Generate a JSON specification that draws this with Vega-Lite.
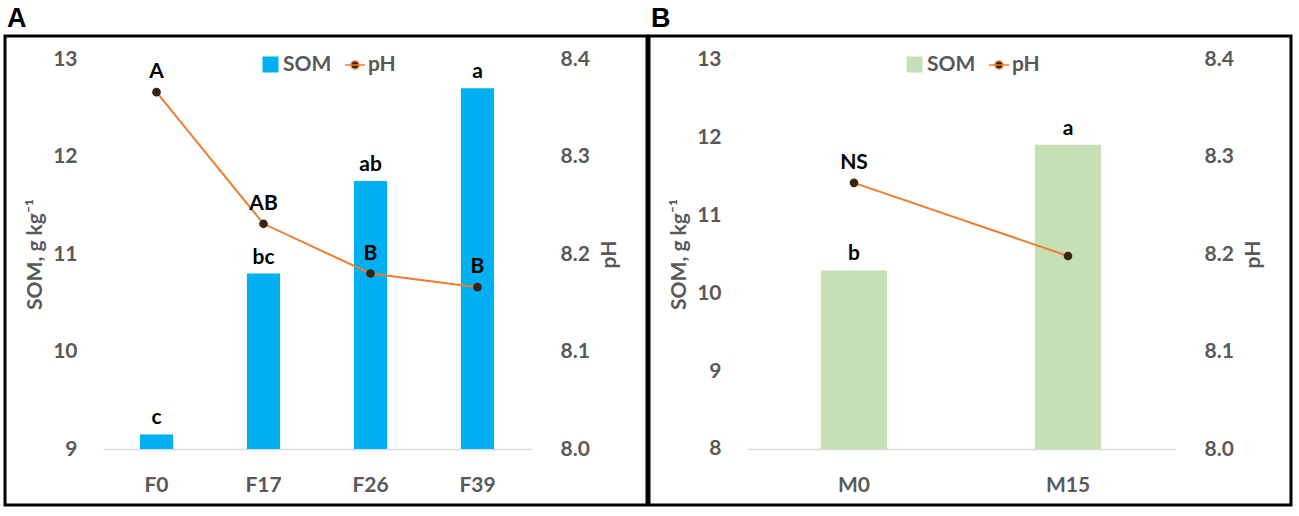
{
  "$schema": "https://vega.github.io/schema/vega-lite/v6.json",
  "padding": {"left": 3, "top": 3, "right": 0, "bottom": 0},
  "datasets": {
    "panelA": [
      {"trt": "F0", "som": 9.15, "somLab": "c", "ph": 8.366, "phLab": "A"},
      {"trt": "F17", "som": 10.80, "somLab": "bc", "ph": 8.231, "phLab": "AB"},
      {"trt": "F26", "som": 11.75, "somLab": "ab", "ph": 8.180, "phLab": "B"},
      {"trt": "F39", "som": 12.70, "somLab": "a", "ph": 8.166, "phLab": "B"}
    ],
    "panelB": [
      {"trt": "M0", "som": 10.29, "somLab": "b", "ph": 8.273, "phLab": "NS"},
      {"trt": "M15", "som": 11.90, "somLab": "a", "ph": 8.198, "phLab": ""}
    ]
  },
  "spacing": 2,
  "bounds": "flush",
  "hconcat": [
    {
      "width": 642,
      "height": 469,
      "title": {"text": "A"},
      "data": {"name": "panelA"},
      "encoding": {
        "x": {
          "field": "trt", "type": "nominal", "sort": null,
          "scale": {"range": [98, 526], "paddingInner": 0.69, "paddingOuter": 0.345},
          "axis": {"orient": "bottom", "offset": -56, "title": null, "labelAngle": 0, "labelPadding": 25, "ticks": false, "domainColor": "#d9d9d9", "domainWidth": 1.5}
        }
      },
      "layer": [
        {
          "encoding": {
            "y": {
              "field": "som", "type": "quantitative",
              "scale": {"domain": [8.426, 13.236], "nice": false, "zero": false},
              "axis": {"orient": "left", "offset": -80, "values": [9, 10, 11, 12, 13], "format": "d", "title": "SOM, g kg⁻¹", "titleY": 218, "titleX": -50, "titleBaseline": "middle"}
            }
          },
          "layer": [
            {
              "mark": {"type": "bar"},
              "encoding": {
                "y2": {"datum": 9},
                "fill": {"datum": "SOM", "scale": {"range": ["#00B0F0"]},
                  "legend": {"orient": "none", "legendX": 255, "legendY": 18, "symbolType": "square"}}
              }
            },
            {
              "mark": {"type": "text", "baseline": "alphabetic", "dy": -10},
              "encoding": {"text": {"field": "somLab"}}
            }
          ]
        },
        {
          "encoding": {
            "y": {
              "field": "ph", "type": "quantitative",
              "scale": {"domain": [7.9426, 8.4236], "nice": false, "zero": false},
              "axis": {"orient": "right", "offset": -95, "values": [8.0, 8.1, 8.2, 8.3, 8.4], "format": ".1f", "title": "pH", "titleAngle": 270, "titleY": 218, "titleX": 57, "titleBaseline": "middle"}
            }
          },
          "layer": [
            {
              "mark": {"type": "line", "strokeWidth": 2},
              "encoding": {
                "stroke": {"datum": "pH", "scale": {"range": ["#ED7D31"]},
                  "legend": {"orient": "none", "legendX": 339, "legendY": 18,
                    "symbolType": "M-1,0L1,0M-0.4,0A0.4,0.4,0,1,1,0.4,0A0.4,0.4,0,1,1,-0.4,0Z",
                    "symbolSize": 400, "symbolStrokeWidth": 1.5,
                    "encode": {"symbols": {"update": {"fill": {"value": "#3B2314"}}}}}}
              }
            },
            {
              "mark": {"type": "point", "filled": true, "size": 75, "color": "#3B2314", "opacity": 1}
            },
            {
              "mark": {"type": "text", "baseline": "alphabetic", "dy": -14},
              "encoding": {"text": {"field": "phLab"}}
            }
          ]
        }
      ],
      "resolve": {"scale": {"y": "independent"}}
    },
    {
      "width": 642,
      "height": 469,
      "title": {"text": "B"},
      "data": {"name": "panelB"},
      "encoding": {
        "x": {
          "field": "trt", "type": "nominal", "sort": null,
          "scale": {"range": [98, 526], "paddingInner": 0.69, "paddingOuter": 0.345},
          "axis": {"orient": "bottom", "offset": -56, "title": null, "labelAngle": 0, "labelPadding": 25, "ticks": false, "domainColor": "#d9d9d9", "domainWidth": 1.5}
        }
      },
      "layer": [
        {
          "encoding": {
            "y": {
              "field": "som", "type": "quantitative",
              "scale": {"domain": [7.282, 13.295], "nice": false, "zero": false},
              "axis": {"orient": "left", "offset": -80, "values": [8, 9, 10, 11, 12, 13], "format": "d", "title": "SOM, g kg⁻¹", "titleY": 218, "titleX": -50, "titleBaseline": "middle"}
            }
          },
          "layer": [
            {
              "mark": {"type": "bar"},
              "encoding": {
                "y2": {"datum": 8},
                "fill": {"datum": "SOM", "scale": {"range": ["#C5E0B4"]},
                  "legend": {"orient": "none", "legendX": 255, "legendY": 18, "symbolType": "square"}}
              }
            },
            {
              "mark": {"type": "text", "baseline": "alphabetic", "dy": -10},
              "encoding": {"text": {"field": "somLab"}}
            }
          ]
        },
        {
          "encoding": {
            "y": {
              "field": "ph", "type": "quantitative",
              "scale": {"domain": [7.9426, 8.4236], "nice": false, "zero": false},
              "axis": {"orient": "right", "offset": -95, "values": [8.0, 8.1, 8.2, 8.3, 8.4], "format": ".1f", "title": "pH", "titleAngle": 270, "titleY": 218, "titleX": 57, "titleBaseline": "middle"}
            }
          },
          "layer": [
            {
              "mark": {"type": "line", "strokeWidth": 2},
              "encoding": {
                "stroke": {"datum": "pH", "scale": {"range": ["#ED7D31"]},
                  "legend": {"orient": "none", "legendX": 339, "legendY": 18,
                    "symbolType": "M-1,0L1,0M-0.4,0A0.4,0.4,0,1,1,0.4,0A0.4,0.4,0,1,1,-0.4,0Z",
                    "symbolSize": 400, "symbolStrokeWidth": 1.5,
                    "encode": {"symbols": {"update": {"fill": {"value": "#3B2314"}}}}}}
              }
            },
            {
              "mark": {"type": "point", "filled": true, "size": 75, "color": "#3B2314", "opacity": 1}
            },
            {
              "mark": {"type": "text", "baseline": "alphabetic", "dy": -14},
              "encoding": {"text": {"field": "phLab"}}
            }
          ]
        }
      ],
      "resolve": {"scale": {"y": "independent"}}
    }
  ],
  "resolve": {
    "scale": {"fill": "independent", "stroke": "independent"},
    "legend": {"fill": "independent", "stroke": "independent"}
  },
  "config": {
    "font": "Lato",
    "view": {"stroke": "#000000", "strokeWidth": 3},
    "title": {"anchor": "start", "frame": "group", "font": "Liberation Sans", "fontSize": 27, "fontWeight": "bold", "color": "#000000", "offset": 3, "dx": 2},
    "axis": {
      "grid": false, "ticks": false,
      "labelFont": "Lato", "labelFontSize": 21, "labelFontWeight": "bold", "labelColor": "#595959",
      "titleFont": "Lato", "titleFontSize": 21, "titleFontWeight": "bold", "titleColor": "#595959"
    },
    "axisY": {"domain": false, "labelPadding": 8},
    "legend": {
      "title": null, "padding": 0, "direction": "horizontal",
      "labelFont": "Lato", "labelFontSize": 21, "labelFontWeight": "bold", "labelColor": "#595959",
      "labelOffset": 2, "symbolSize": 256, "symbolStrokeWidth": 0, "symbolOpacity": 1
    },
    "text": {"font": "Lato", "fontSize": 21, "fontWeight": "bold", "color": "#000000"}
  }
}
